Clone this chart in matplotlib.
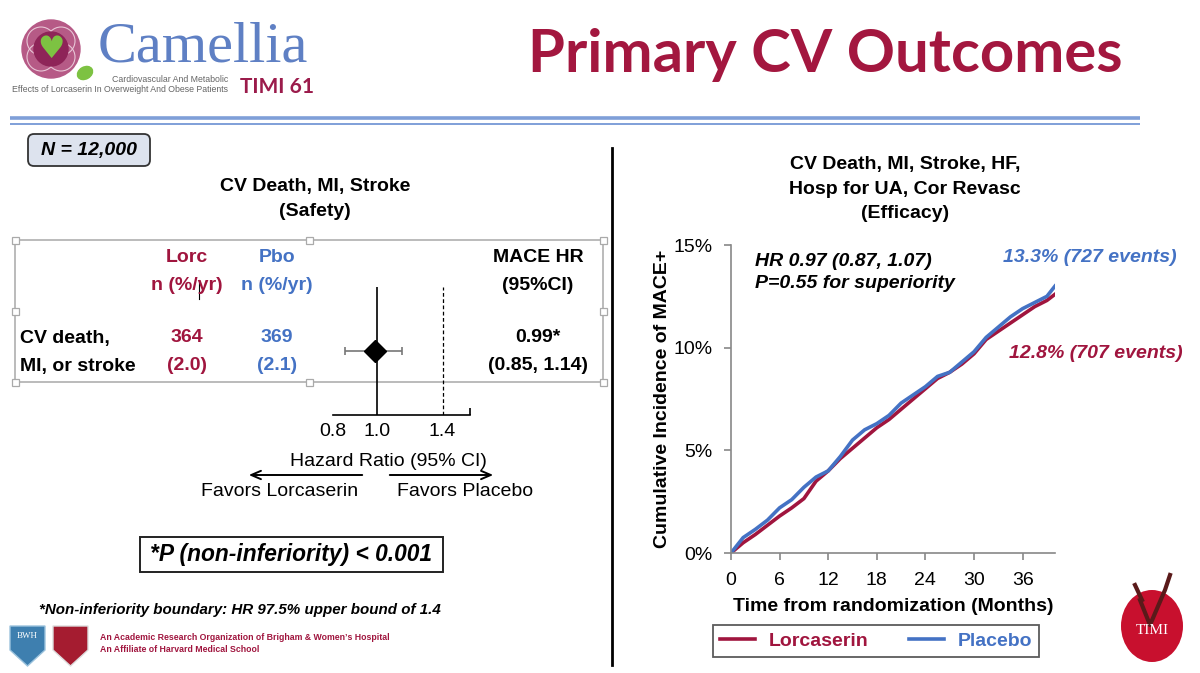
import matplotlib
matplotlib.use("Agg")
from matplotlib import pyplot as plt
from matplotlib.patches import Rectangle, FancyBboxPatch, Circle, Ellipse, Polygon
from matplotlib.ticker import FuncFormatter, NullFormatter

plt.rcParams["font.family"] = ["Liberation Sans", "DejaVu Sans"]

# ---- data ----
# forest plot (safety endpoint)
hr_point = 0.99
hr_low = 0.85
hr_high = 1.14
ni_boundary = 1.4
hr_ticks = [0.8, 1.0, 1.4]

# KM curves (%)
months = [0, 1.5, 3, 4.5, 6, 7.5, 9, 10.5, 12, 13.5, 15, 16.5, 18, 19.5, 21,
          22.5, 24, 25.5, 27, 28.5, 30, 31.5, 33, 34.5, 36, 37.5, 39, 40]
placebo = [0, 0.75, 1.15, 1.6, 2.2, 2.6, 3.2, 3.7, 4.0, 4.7, 5.5, 6.0, 6.3, 6.7,
           7.3, 7.7, 8.1, 8.6, 8.8, 9.3, 9.8, 10.5, 11.0, 11.5, 11.9, 12.2, 12.5, 13.0]
lorcaserin = [0, 0.5, 0.9, 1.35, 1.8, 2.2, 2.65, 3.5, 4.0, 4.6, 5.1, 5.6, 6.1, 6.5,
              7.0, 7.5, 8.0, 8.5, 8.8, 9.2, 9.7, 10.4, 10.8, 11.2, 11.6, 12.0, 12.3, 12.6]
month_ticks = [0, 6, 12, 18, 24, 30, 36]
pct_ticks = [0, 5, 10, 15]

MAROON = "#A0153E"
BLUE = "#4472C4"
TITLE_RED = "#A3173F"

W, H = 1200, 673
fig = plt.figure(figsize=(12, 6.73), dpi=100)

def box(l, t, r, b):
    # pixel box -> figure fraction
    return [l / W, 1 - b / H, (r - l) / W, (b - t) / H]

# background axes in pixel units
bg = fig.add_axes([0, 0, 1, 1])
bg.set_xlim(0, W)
bg.set_ylim(H, 0)
bg.axis("off")

# ---- header ----
bg.text(825, 55, "Primary CV Outcomes", fontsize=43, fontweight="bold", color=TITLE_RED,
        family=["Lato", "DejaVu Sans"], ha="center", va="center")
bg.plot([10, 1140], [118, 118], color="#7F9FD8", lw=2.6, solid_capstyle="butt")
bg.plot([10, 1140], [124, 124], color="#7F9FD8", lw=1.4, solid_capstyle="butt")

# camellia logo (rough)
bg.add_patch(Ellipse((85, 73), 16, 12, angle=-30, color="#7DC242"))
bg.add_patch(Circle((51, 49), 29, color="#B65A86"))
for dx, dy in [(-10, -8), (10, -8), (-10, 8), (10, 8)]:
    bg.add_patch(Circle((51 + dx, 49 + dy), 14, facecolor="none", edgecolor="#E8C6D6", lw=0.8))
bg.add_patch(Circle((51, 49), 17, color="#8E2458"))
bg.text(51, 49, "\u2665", fontsize=22, color="#7DC242", ha="center", va="center", family="DejaVu Sans")
bg.text(98, 47, "Camellia", fontsize=42, color="#5F80C4", family=["Liberation Serif"],
        ha="left", va="center")
bg.text(228, 79, "Cardiovascular And Metabolic", fontsize=6.3, color="#666666",
        ha="right", va="center")
bg.text(228, 90, "Effects of Lorcaserin In Overweight And Obese Patients", fontsize=6.3,
        color="#666666", ha="right", va="center")
bg.text(240, 87, "TIMI 61", fontsize=15, fontweight="bold", color="#9B1B4B",
        family=["Lato", "DejaVu Sans"], ha="left", va="center")

# divider
bg.plot([612, 612], [148, 665], color="black", lw=2)

# ---- left panel ----
bg.add_patch(FancyBboxPatch((28, 134), 122, 32, boxstyle="round,pad=0,rounding_size=6",
                            facecolor="#DDE3EE", edgecolor="#333333", lw=1.3))
bg.text(89, 151, "N = 12,000", fontsize=14, fontweight="bold", style="italic",
        ha="center", va="center")
bg.text(315, 187, "CV Death, MI, Stroke", fontsize=14, fontweight="bold", ha="center", va="center")
bg.text(315, 212, "(Safety)", fontsize=14, fontweight="bold", ha="center", va="center")

# table frame with selection handles
bg.add_patch(Rectangle((15, 240), 588, 142, facecolor="none", edgecolor="#BBBBBB", lw=1.4))
for hx, hy in [(15, 240), (309, 240), (603, 240), (15, 311), (603, 311),
               (15, 382), (309, 382), (603, 382)]:
    bg.add_patch(Rectangle((hx - 3.5, hy - 3.5), 7, 7, facecolor="white",
                           edgecolor="#AAAAAA", lw=0.9, zorder=3))

tfs = 14
bg.text(187, 258, "Lorc", fontsize=tfs, fontweight="bold", color=MAROON, ha="center", va="center")
bg.text(187, 286, "n (%/yr)", fontsize=tfs, fontweight="bold", color=MAROON, ha="center", va="center")
bg.text(277, 258, "Pbo", fontsize=tfs, fontweight="bold", color=BLUE, ha="center", va="center")
bg.text(277, 286, "n (%/yr)", fontsize=tfs, fontweight="bold", color=BLUE, ha="center", va="center")
bg.text(538, 258, "MACE HR", fontsize=tfs, fontweight="bold", ha="center", va="center")
bg.text(538, 286, "(95%CI)", fontsize=tfs, fontweight="bold", ha="center", va="center")
bg.text(20, 338, "CV death,", fontsize=tfs, fontweight="bold", ha="left", va="center")
bg.text(20, 366, "MI, or stroke", fontsize=tfs, fontweight="bold", ha="left", va="center")
bg.text(187, 338, "364", fontsize=tfs, fontweight="bold", color=MAROON, ha="center", va="center")
bg.text(187, 366, "(2.0)", fontsize=tfs, fontweight="bold", color=MAROON, ha="center", va="center")
bg.text(277, 338, "369", fontsize=tfs, fontweight="bold", color=BLUE, ha="center", va="center")
bg.text(277, 366, "(2.1)", fontsize=tfs, fontweight="bold", color=BLUE, ha="center", va="center")
bg.text(538, 338, "0.99*", fontsize=tfs, fontweight="bold", ha="center", va="center")
bg.text(538, 366, "(0.85, 1.14)", fontsize=tfs, fontweight="bold", ha="center", va="center")
bg.plot([199, 199], [280, 299], color="black", lw=0.8)  # text cursor

# forest plot
fp = fig.add_axes(box(333, 287, 470, 415))
fp.patch.set_alpha(0)
fp.set_xscale("log")
fp.set_xlim(0.8, 1.61)
fp.set_ylim(0, 1)
for s in ["top", "right", "left"]:
    fp.spines[s].set_visible(False)
fp.spines["bottom"].set_linewidth(1.2)
fp.axvline(1.0, color="black", lw=1.2)
fp.axvline(ni_boundary, color="black", lw=0.9, ls=(0, (3, 2)))
fp.errorbar([hr_point], [0.5], xerr=[[hr_point - hr_low], [hr_high - hr_point]],
            fmt="D", color="black", ms=11, ecolor="#777777", elinewidth=1.2,
            capsize=3, capthick=1.2)
fp.set_yticks([])
fp.set_xticks(hr_ticks)
fp.set_xticklabels(["0.8", "1.0", "1.4"], fontsize=14)
fp.xaxis.set_minor_locator(matplotlib.ticker.FixedLocator([0.8, 1.61]))
fp.xaxis.set_minor_formatter(NullFormatter())
fp.tick_params(axis="x", which="major", length=0, pad=6)
fp.tick_params(axis="x", which="minor", length=5, direction="in", width=1.2)

bg.text(388, 462, "Hazard Ratio (95% CI)", fontsize=14, ha="center", va="center")
arrow_style = dict(arrowstyle="->,head_length=0.7,head_width=0.3", lw=1.4, color="black")
bg.annotate("", xy=(246, 475), xytext=(365, 475), arrowprops=arrow_style)
bg.annotate("", xy=(496, 475), xytext=(387, 475), arrowprops=arrow_style)
bg.text(280, 492, "Favors Lorcaserin", fontsize=14, ha="center", va="center")
bg.text(465, 492, "Favors Placebo", fontsize=14, ha="center", va="center")

bg.add_patch(Rectangle((140, 537), 303, 35, facecolor="none", edgecolor="#222222", lw=1.4))
bg.text(291.5, 554.5, "*P (non-inferiority) < 0.001", fontsize=16.4, fontweight="bold",
        style="italic", ha="center", va="center")
bg.text(240, 610, "*Non-inferiority boundary: HR 97.5% upper bound of 1.4", fontsize=10.9,
        fontweight="bold", style="italic", ha="center", va="center")

# footer logos (rough)
bg.add_patch(Polygon([(10, 626), (45, 626), (45, 650), (27.5, 666), (10, 650)],
                     closed=True, facecolor="#3E7FAF", edgecolor="#9CC3DD", lw=1))
bg.text(27.5, 636, "BWH", fontsize=6.5, color="white", family=["Liberation Serif"],
        ha="center", va="center")
bg.add_patch(Polygon([(53, 626), (88, 626), (88, 650), (70.5, 666), (53, 650)],
                     closed=True, facecolor="#A51C30", edgecolor="#DDDDDD", lw=1))
bg.text(100, 637, "An Academic Research Organization of Brigham & Women\u02bcs Hospital",
        fontsize=6.3, fontweight="bold", color="#A0153E", ha="left", va="center")
bg.text(100, 649, "An Affiliate of Harvard Medical School", fontsize=6.3,
        fontweight="bold", color="#A0153E", ha="left", va="center")

# TIMI logo (rough)
bg.add_patch(Ellipse((1152, 626), 62, 72, facecolor="#C8102E", edgecolor="none"))
bg.plot([1140, 1150, 1165, 1170], [600, 625, 590, 575], color="#5A1A1A", lw=3)
bg.plot([1135, 1142], [585, 600], color="#5A1A1A", lw=3)
bg.text(1152, 630, "TIMI", fontsize=11, color="white", family=["Liberation Serif"],
        ha="center", va="center")

# ---- right panel ----
bg.text(905, 165, "CV Death, MI, Stroke, HF,", fontsize=14, fontweight="bold", ha="center", va="center")
bg.text(905, 189, "Hosp for UA, Cor Revasc", fontsize=14, fontweight="bold", ha="center", va="center")
bg.text(905, 213, "(Efficacy)", fontsize=14, fontweight="bold", ha="center", va="center")

km = fig.add_axes(box(731, 245, 1055, 553))
km.patch.set_alpha(0)
l1, = km.plot(months, lorcaserin, color=MAROON, lw=2.6, label="Lorcaserin")
l2, = km.plot(months, placebo, color=BLUE, lw=2.6, label="Placebo")
km.set_xlim(0, 40)
km.set_ylim(0, 15)
km.set_xticks(month_ticks)
km.set_yticks(pct_ticks)
km.yaxis.set_major_formatter(FuncFormatter(lambda v, p: "%d%%" % v))
for s in ["top", "right"]:
    km.spines[s].set_visible(False)
for s in ["left", "bottom"]:
    km.spines[s].set_color("#888888")
    km.spines[s].set_linewidth(1.2)
km.tick_params(labelsize=14, length=5, color="#888888", width=1.2)
km.tick_params(axis="x", pad=9)
km.tick_params(axis="y", pad=8)
km.set_xlabel("Time from randomization (Months)", fontsize=14, fontweight="bold", labelpad=6)
km.set_ylabel("Cumulative Incidence of MACE+", fontsize=14, fontweight="bold", labelpad=2)

bg.text(755, 262, "HR 0.97 (0.87, 1.07)", fontsize=14, fontweight="bold", style="italic",
        ha="left", va="center")
bg.text(755, 283, "P=0.55 for superiority", fontsize=14, fontweight="bold", style="italic",
        ha="left", va="center")
bg.text(1177, 257, "13.3% (727 events)", fontsize=14, fontweight="bold", style="italic",
        color=BLUE, ha="right", va="center")
bg.text(1183, 353, "12.8% (707 events)", fontsize=14, fontweight="bold", style="italic",
        color=MAROON, ha="right", va="center")

leg = km.legend(handles=[l1, l2], loc="center", bbox_to_anchor=(876 / W, 1 - 641 / H),
                bbox_transform=fig.transFigure, ncol=2, fancybox=False, edgecolor="#333333",
                handlelength=1.8, handletextpad=0.7, columnspacing=2.1, borderpad=0.35,
                borderaxespad=0, prop={"size": 14, "weight": "bold"})
leg.get_frame().set_linewidth(1.3)
leg.get_texts()[0].set_color(MAROON)
leg.get_texts()[1].set_color(BLUE)

fig.savefig("out.png", dpi=100)
